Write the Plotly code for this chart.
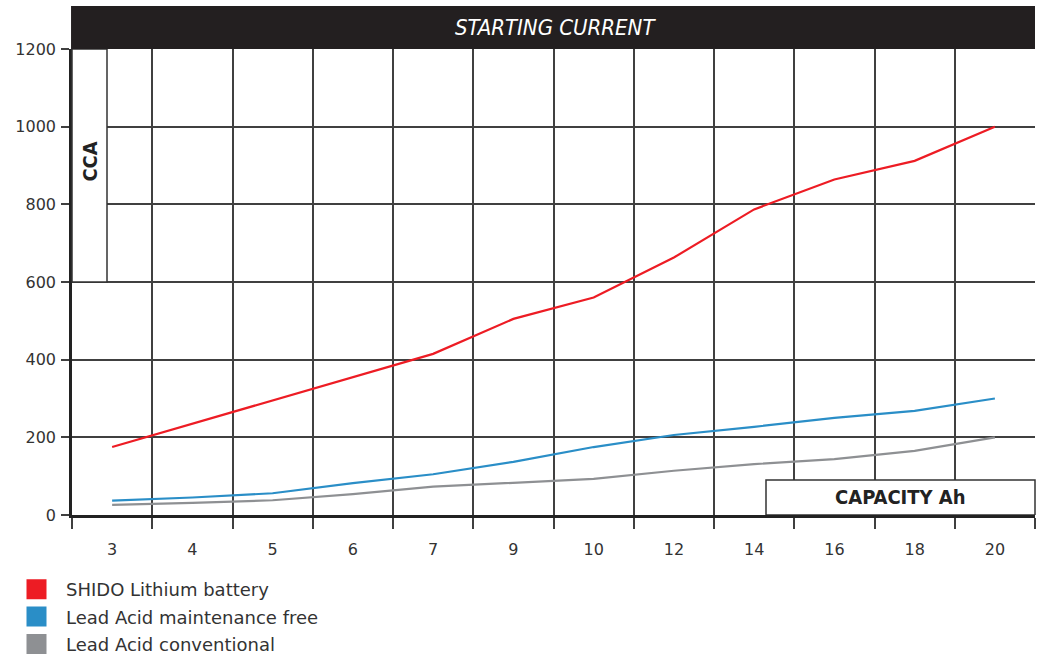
import plotly.graph_objects as go

capacity = ["3", "4", "5", "6", "7", "9", "10", "12", "14", "16", "18", "20"]
shido_lithium = [175, 235, 295, 355, 415, 505, 560, 663, 787, 864, 912, 1000]
lead_acid_mf = [37, 45, 56, 82, 105, 137, 175, 206, 227, 250, 268, 300]
lead_acid_conv = [26, 31, 38, 54, 73, 83, 93, 114, 131, 144, 165, 200]

names = ["SHIDO Lithium battery", "Lead Acid maintenance free", "Lead Acid conventional"]
colors = ["#ed1c24", "#2a8ec7", "#8e9093"]
series = [shido_lithium, lead_acid_mf, lead_acid_conv]

FONT = "DejaVu Sans"
CFONT = "DejaVu Sans Condensed"
W, H = 1041, 657
ML, MR, MT, MB = 72, 6, 49, 142
PW, PH = W - ML - MR, H - MT - MB

fig = go.Figure()

for name, col, vals in zip(names, colors, series):
    fig.add_trace(go.Scatter(x=capacity, y=vals, mode="lines", name=name,
                             line=dict(color=col, width=2.2), showlegend=False,
                             hoverinfo="x+y+name"))
# legend entries (square swatches)
for i, (name, col) in enumerate(zip(names, colors)):
    fig.add_trace(go.Scatter(x=[None], y=[None], mode="markers", name=name,
                             legendgroup="g%d" % i,
                             marker=dict(symbol="square", size=16, color=col,
                                         line=dict(color=col, width=4)),
                             showlegend=True))

fig.update_layout(
    width=W, height=H,
    margin=dict(l=ML, r=MR, t=MT, b=MB, autoexpand=False),
    paper_bgcolor="white", plot_bgcolor="white",
    font=dict(family=FONT, size=16, color="#333333"),
    showlegend=True,
    legend=dict(xref="container", yref="container",
                x=7 / W, y=1 - 571 / H, xanchor="left", yanchor="top",
                font=dict(family=FONT, size=18, color="#333333"),
                itemwidth=49, itemsizing="trace", tracegroupgap=1,
                bgcolor="rgba(0,0,0,0)"),
    xaxis=dict(type="category", categoryorder="array", categoryarray=capacity,
               range=[-0.5, 11.5], tickson="boundaries",
               ticks="outside", ticklen=11, tickcolor="#404040", tickwidth=1.5,
               showgrid=True, gridcolor="#404040", gridwidth=1.5,
               showline=True, linecolor="#222222", linewidth=2.5,
               ticklabelstandoff=18,
               tickfont=dict(family=FONT, size=16, color="#333333"), fixedrange=True),
    yaxis=dict(range=[0, 1200], tickmode="linear", tick0=0, dtick=200,
               ticks="outside", ticklen=8, tickcolor="#404040", tickwidth=1.5,
               showgrid=True, gridcolor="#404040", gridwidth=1.5,
               zeroline=False, showline=True, linecolor="#222222", linewidth=2.5,
               ticklabelstandoff=2,
               tickfont=dict(family=FONT, size=16, color="#333333"), fixedrange=True),
)

# title bar
fig.add_shape(type="rect", xref="paper", yref="paper", x0=-0.001, x1=1.0,
              y0=1.0, y1=1 + 43 / PH, fillcolor="#231f20", line=dict(width=0), layer="above")
fig.add_annotation(xref="paper", yref="paper", x=(555 - ML) / PW, y=1 + 21.5 / PH,
                   xanchor="center", yanchor="middle",
                   text="<i>STARTING CURRENT</i>", showarrow=False,
                   font=dict(family=CFONT, size=22, color="white"))

# CCA box
fig.add_shape(type="rect", xref="paper", yref="y", x0=0.0, x1=(107 - ML) / PW,
              y0=600, y1=1200, fillcolor="white",
              line=dict(color="#333333", width=1.5), layer="above")
fig.add_annotation(xref="paper", yref="y", x=(90 - ML) / PW, y=910,
                   xanchor="center", yanchor="middle",
                   text="<b>CCA</b>", textangle=-90, showarrow=False,
                   font=dict(family=CFONT, size=20, color="#222222"))

# CAPACITY box
fig.add_shape(type="rect", xref="paper", yref="y", x0=(766 - ML) / PW, x1=1.0,
              y0=0, y1=90, fillcolor="white",
              line=dict(color="#333333", width=1.5), layer="above")
fig.add_annotation(xref="paper", yref="y", x=(900 - ML) / PW, y=46,
                   xanchor="center", yanchor="middle",
                   text="<b>CAPACITY Ah</b>", showarrow=False,
                   font=dict(family=CFONT, size=20, color="#222222"))

fig.write_html("out.html", config={"displayModeBar": False},
               post_script="document.body.style.margin='0';")
